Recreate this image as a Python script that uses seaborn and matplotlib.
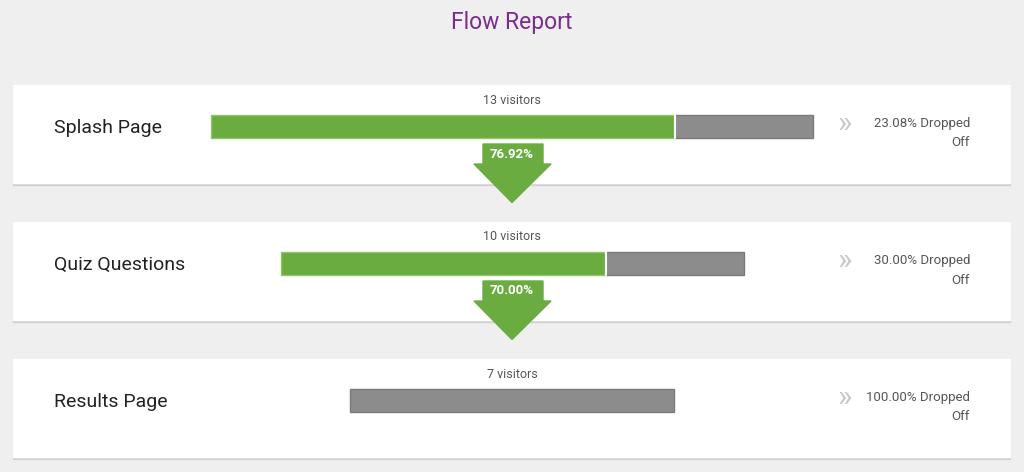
import seaborn as sns
import matplotlib.pyplot as plt
from matplotlib.patches import Rectangle, Polygon

stages = ['Splash Page', 'Quiz Questions', 'Results Page']
visitors = [13, 10, 7]
continued = [10, 7, 0]
conversion = ['76.92%', '70.00%']
dropped = ['23.08%', '30.00%', '100.00%']

GREEN = '#6aac40'
GRAY = '#8c8c8c'

sns.set_theme(style='white')
plt.rcParams['font.family'] = ['Roboto', 'DejaVu Sans']

fig = plt.figure(figsize=(10.24, 4.72), dpi=100)
fig.patch.set_facecolor('#efefef')

# background layer in pixel units for cards and arrows
bg = fig.add_axes([0, 0, 1, 1])
bg.set_xlim(0, 1024)
bg.set_ylim(472, 0)
bg.axis('off')
bg.patch.set_alpha(0)

row_px = 126.5
row_gap = 137
for i in range(len(stages)):
    top = 85 + row_gap * i
    bg.add_patch(Rectangle((13, top + 1.5), 997, 98, color='#d2d2d2', zorder=1))
    bg.add_patch(Rectangle((13, top), 997, 98, color='white', zorder=2))

bg.text(512, 23, 'Flow Report', ha='center', va='center', fontsize=16.5, color='#7a2d8c')

# bars layer in visitor units, rows as categories
ax = fig.add_axes([0, 0, 1, 1], zorder=3)
ax.patch.set_alpha(0)
ax.axis('off')
px_per_visitor = 46.3
ax.set_xlim(-512 / px_per_visitor, 512 / px_per_visitor)
ax.set_ylim((472 - row_px) / row_gap, -row_px / row_gap)

bar_h = 23 / row_gap
for i, (name, total, kept) in enumerate(zip(stages, visitors, continued)):
    left = -total / 2
    ax.barh(i, total - kept, left=left + kept, height=bar_h, color=GRAY,
            edgecolor='#7a7a7a', linewidth=1)
    if kept:
        ax.barh(i, kept, left=left, height=bar_h, color=GREEN,
                edgecolor='#8fc86c', linewidth=1)
        ax.plot([left + kept + 0.02] * 2, [i - bar_h / 2, i + bar_h / 2],
                color='white', lw=1.5)
    ax.text(0, i - 26.5 / row_gap, f'{total} visitors', ha='center', va='center',
            fontsize=9, color='#555555')
    ax.text(-458 / px_per_visitor, i + 1.5 / row_gap, name, ha='left', va='center',
            fontsize=14, color='#222222')
    ax.text(333 / px_per_visitor, i - 3 / row_gap, '»', ha='center', va='center',
            fontsize=22, color='#c8c8c8')
    ax.text(458 / px_per_visitor, i - 3 / row_gap, f'{dropped[i]} Dropped',
            ha='right', va='center', fontsize=9.5, color='#555555')
    ax.text(458 / px_per_visitor, i + 16.5 / row_gap, 'Off',
            ha='right', va='center', fontsize=9.5, color='#555555')

# conversion arrows between rows
for i, pct in enumerate(conversion):
    cy = row_px + row_gap * i
    bg.add_patch(Polygon([(483, cy + 17.5), (543, cy + 17.5), (543, cy + 37.5),
                          (551, cy + 37.5), (512, cy + 76), (474, cy + 37.5),
                          (483, cy + 37.5)], closed=True, color=GREEN, zorder=5))
    bg.text(512, cy + 27.5, pct, ha='center', va='center', fontsize=9.5,
            fontweight='bold', color='white', zorder=6)

fig.savefig('out.png', dpi=100, facecolor=fig.get_facecolor())
